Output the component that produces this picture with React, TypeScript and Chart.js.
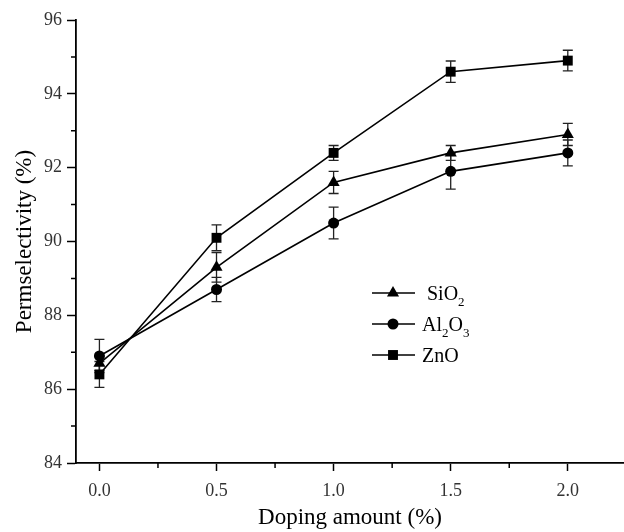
import { useEffect, useRef } from "react";
import { Chart, registerables } from "chart.js";
import { drawPoint } from "chart.js/helpers";

Chart.register(...registerables);

// Doping amount (%) on the x axis
const dopingAmounts = [0, 0.5, 1.0, 1.5, 2.0];

// Permselectivity (%) with standard deviations
const sio2Values = [86.7, 89.3, 91.6, 92.4, 92.9];
const sio2Errors = [0.2, 0.4, 0.3, 0.2, 0.3];
const al2o3Values = [86.9, 88.7, 90.5, 91.9, 92.4];
const al2o3Errors = [0.45, 0.33, 0.43, 0.48, 0.35];
const znoValues = [86.4, 90.1, 92.4, 94.6, 94.9];
const znoErrors = [0.35, 0.35, 0.2, 0.29, 0.28];

const seriesNames = ["SiO2", "Al2O3", "ZnO"];
const seriesMarkers = ["triangle", "circle", "rect"];

const xMajorTicks = [0, 0.5, 1.0, 1.5, 2.0];
const xMinorTicks = [0.25, 0.75, 1.25, 1.75];
const yMajorTicks = [84, 86, 88, 90, 92, 94, 96];
const yMinorTicks = [85, 87, 89, 91, 93, 95];

const SERIF = "'Liberation Serif', 'Times New Roman', serif";

// Vertical error bars with caps, drawn under the markers
const errorBarPlugin = {
  id: "errorBars",
  beforeDatasetsDraw(chart: any) {
    const { ctx, scales } = chart;
    const xs = scales.x;
    const ys = scales.y;
    ctx.save();
    ctx.lineWidth = 1.3;
    ctx.strokeStyle = "#222";
    chart.data.datasets.forEach((ds: any) => {
      ds.data.forEach((pt: any, i: number) => {
        const err = ds.errors[i];
        const px = xs.getPixelForValue(pt.x);
        const top = ys.getPixelForValue(pt.y + err);
        const bot = ys.getPixelForValue(pt.y - err);
        ctx.beginPath();
        ctx.moveTo(px, top);
        ctx.lineTo(px, bot);
        ctx.moveTo(px - 5, top);
        ctx.lineTo(px + 5, top);
        ctx.moveTo(px - 5, bot);
        ctx.lineTo(px + 5, bot);
        ctx.stroke();
      });
    });
    ctx.restore();
  },
};

// Short minor ticks on the outside of both axes
const minorTickPlugin = {
  id: "minorTicks",
  afterDraw(chart: any) {
    const { ctx, scales, chartArea } = chart;
    ctx.save();
    ctx.strokeStyle = "#000";
    ctx.lineWidth = 1.5;
    ctx.beginPath();
    xMinorTicks.forEach((v) => {
      const px = scales.x.getPixelForValue(v);
      ctx.moveTo(px, chartArea.bottom);
      ctx.lineTo(px, chartArea.bottom + 5);
    });
    yMinorTicks.forEach((v) => {
      const py = scales.y.getPixelForValue(v);
      ctx.moveTo(chartArea.left, py);
      ctx.lineTo(chartArea.left - 5, py);
    });
    ctx.stroke();
    ctx.restore();
  },
};

// Legend box with chemical subscripts
const keyPlugin = {
  id: "seriesKey",
  afterDraw(chart: any) {
    const { ctx } = chart;
    const rowY = [293, 324, 355];
    const lineStart = 372;
    const lineEnd = 415;
    const markX = 393;
    ctx.save();
    chart.data.datasets.forEach((ds: any, i: number) => {
      const y = rowY[i];
      ctx.strokeStyle = "#000";
      ctx.lineWidth = 1.6;
      ctx.beginPath();
      ctx.moveTo(lineStart, y);
      ctx.lineTo(lineEnd, y);
      ctx.stroke();
      ctx.fillStyle = "#000";
      drawPoint(
        ctx,
        { pointStyle: ds.pointStyle, radius: ds.pointRadius, borderWidth: 0, rotation: 0 } as any,
        markX,
        y
      );
      let tx = i === 0 ? 427 : 422;
      const label: string = ds.label;
      ctx.textBaseline = "alphabetic";
      ctx.textAlign = "left";
      for (const ch of label) {
        if (/\d/.test(ch)) {
          ctx.font = `13px ${SERIF}`;
          ctx.fillText(ch, tx, y + 13);
        } else {
          ctx.font = `20px ${SERIF}`;
          ctx.fillText(ch, tx, y + 7);
        }
        tx += ctx.measureText(ch).width;
      }
    });
    ctx.restore();
  },
};

function makeDataset(label: string, values: number[], errors: number[], marker: string) {
  return {
    label,
    data: dopingAmounts.map((x, i) => ({ x, y: values[i] })),
    errors,
    borderColor: "#000",
    backgroundColor: "#000",
    borderWidth: 1.6,
    pointStyle: marker,
    pointRadius: marker === "circle" ? 5.5 : 7,
    pointBorderWidth: 0,
    pointBackgroundColor: "#000",
    tension: 0,
  };
}

export default function App() {
  const canvasRef = useRef<HTMLCanvasElement | null>(null);

  useEffect(() => {
    document.body.style.margin = "0";
    const canvas = canvasRef.current;
    if (!canvas) return;
    const chart = new Chart(canvas, {
      type: "line",
      data: {
        datasets: [
          makeDataset(seriesNames[0], sio2Values, sio2Errors, seriesMarkers[0]),
          makeDataset(seriesNames[1], al2o3Values, al2o3Errors, seriesMarkers[1]),
          makeDataset(seriesNames[2], znoValues, znoErrors, seriesMarkers[2]),
        ] as any,
      },
      options: {
        responsive: false,
        animation: false,
        layout: { autoPadding: false, padding: { top: 20, right: 0, left: 0, bottom: 0 } },
        plugins: {
          legend: { display: false },
          tooltip: { enabled: false },
        },
        scales: {
          x: {
            type: "linear",
            min: -0.1,
            max: 2.24,
            afterBuildTicks: (scale: any) => {
              scale.ticks = xMajorTicks.map((v) => ({ value: v }));
            },
            afterFit: (scale: any) => {
              scale.height = 69;
              scale.paddingLeft = 0;
              scale.paddingRight = 0;
            },
            grid: {
              drawOnChartArea: false,
              drawTicks: true,
              tickLength: 8,
              tickWidth: 1.5,
              tickColor: "#000",
            },
            border: { display: true, color: "#000", width: 1.8 },
            ticks: {
              color: "#333",
              padding: 9,
              font: { family: SERIF, size: 18 },
              callback: (v: any) => Number(v).toFixed(1),
            },
            title: {
              display: true,
              text: "Doping amount (%)",
              color: "#000",
              font: { family: SERIF, size: 23 },
              padding: { top: 0, bottom: 0 },
            },
          },
          y: {
            type: "linear",
            min: 84,
            max: 96,
            afterBuildTicks: (scale: any) => {
              scale.ticks = yMajorTicks.map((v) => ({ value: v }));
            },
            afterFit: (scale: any) => {
              scale.width = 76;
            },
            grid: {
              drawOnChartArea: false,
              drawTicks: true,
              tickLength: 9,
              tickWidth: 1.5,
              tickColor: "#000",
            },
            border: { display: true, color: "#000", width: 1.8 },
            ticks: {
              color: "#333",
              padding: 5,
              font: { family: SERIF, size: 18 },
            },
            title: {
              display: true,
              text: "Permselectivity (%)",
              color: "#000",
              font: { family: SERIF, size: 23 },
              padding: { top: 11, bottom: 0 },
            },
          },
        },
      },
      plugins: [errorBarPlugin, minorTickPlugin, keyPlugin],
    });
    return () => chart.destroy();
  }, []);

  return (
    <canvas
      ref={canvasRef}
      width={624}
      height={532}
      style={{ display: "block", width: 624, height: 532 }}
    />
  );
}
